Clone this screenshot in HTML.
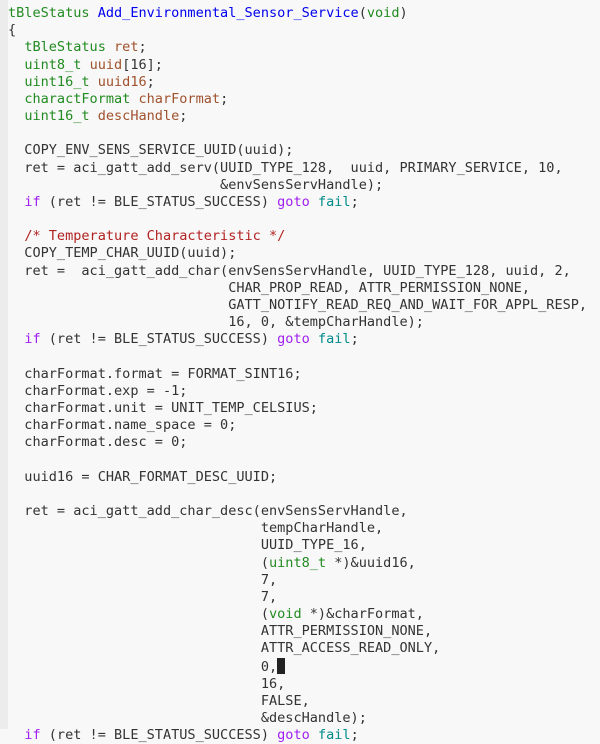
<!DOCTYPE html>
<html><head><meta charset="utf-8"><style>
html,body{margin:0;padding:0;}
body{width:600px;height:729px;overflow:hidden;background:#f8f8f8;position:relative;}
.g{position:absolute;left:0;top:0;width:8px;height:729px;background:#ececec;}
pre{margin:0;position:absolute;left:8px;top:5px;font-family:"DejaVu Sans Mono","Liberation Mono",monospace;font-size:13.55px;line-height:17.17px;color:#333;}
.t{color:#228b22}.f{color:#0000ee}.v{color:#a0522d}.k{color:#a020f0}.l{color:#008b8b}.c{color:#b22222}
.cur{display:inline-block;width:8px;height:16px;background:#222;vertical-align:-3px;}
</style></head><body><div class="g"></div><pre><span class="t">tBleStatus</span> <span class="f">Add_Environmental_Sensor_Service</span>(<span class="t">void</span>)
{
  <span class="t">tBleStatus</span> <span class="v">ret</span>;
  <span class="t">uint8_t</span> <span class="v">uuid</span>[16];
  <span class="t">uint16_t</span> <span class="v">uuid16</span>;
  <span class="t">charactFormat</span> <span class="v">charFormat</span>;
  <span class="t">uint16_t</span> <span class="v">descHandle</span>;

  COPY_ENV_SENS_SERVICE_UUID(uuid);
  ret = aci_gatt_add_serv(UUID_TYPE_128,  uuid, PRIMARY_SERVICE, 10,
                          &amp;envSensServHandle);
  <span class="k">if</span> (ret != BLE_STATUS_SUCCESS) <span class="k">goto</span> <span class="l">fail</span>;

  <span class="c">/* Temperature Characteristic */</span>
  COPY_TEMP_CHAR_UUID(uuid);
  ret =  aci_gatt_add_char(envSensServHandle, UUID_TYPE_128, uuid, 2,
                           CHAR_PROP_READ, ATTR_PERMISSION_NONE,
                           GATT_NOTIFY_READ_REQ_AND_WAIT_FOR_APPL_RESP,
                           16, 0, &amp;tempCharHandle);
  <span class="k">if</span> (ret != BLE_STATUS_SUCCESS) <span class="k">goto</span> <span class="l">fail</span>;

  charFormat.format = FORMAT_SINT16;
  charFormat.exp = -1;
  charFormat.unit = UNIT_TEMP_CELSIUS;
  charFormat.name_space = 0;
  charFormat.desc = 0;

  uuid16 = CHAR_FORMAT_DESC_UUID;

  ret = aci_gatt_add_char_desc(envSensServHandle,
                               tempCharHandle,
                               UUID_TYPE_16,
                               (<span class="t">uint8_t</span> *)&amp;uuid16,
                               7,
                               7,
                               (<span class="t">void</span> *)&amp;charFormat,
                               ATTR_PERMISSION_NONE,
                               ATTR_ACCESS_READ_ONLY,
                               0,<span class="cur"></span>
                               16,
                               FALSE,
                               &amp;descHandle);
  <span class="k">if</span> (ret != BLE_STATUS_SUCCESS) <span class="k">goto</span> <span class="l">fail</span>;
</pre></body></html>
